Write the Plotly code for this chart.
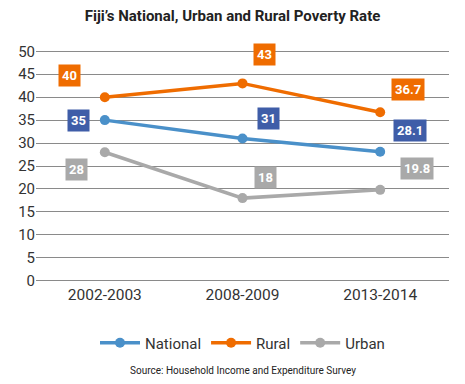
import plotly.graph_objects as go

periods = ["2002-2003", "2008-2009", "2013-2014"]
national = [35, 31, 28.1]
rural = [40, 43, 36.7]
urban = [28, 18, 19.8]
national_labels = ["35", "31", "28.1"]
rural_labels = ["40", "43", "36.7"]
urban_labels = ["28", "18", "19.8"]

FONT = "Roboto"
H = 384
series = [
    ("National", national, national_labels, "#4A90C9", "#3F5DA8",
     [(-26, 0), (26, 20), (30, 21)]),
    ("Rural", rural, rural_labels, "#EF6C00", "#EF6C00",
     [(-35, 22), (22, 29), (28, 23)]),
    ("Urban", urban, urban_labels, "#A9A9A9", "#A9A9A9",
     [(-28, -17), (23, 21), (37, 21)]),
]

fig = go.Figure()
annotations = []
for name, vals, labs, lc, bc, offs in series:
    fig.add_trace(go.Scatter(
        x=periods, y=vals, name=name, mode="lines+markers",
        line=dict(color=lc, width=3.5), marker=dict(color=lc, size=10),
        hoverinfo="skip"))
    for xv, yv, lab, (dx, dy) in zip(periods, vals, labs, offs):
        annotations.append(dict(
            x=xv, y=yv, xref="x", yref="y", text="<b>" + lab + "</b>",
            showarrow=False, xshift=dx, yshift=dy,
            bgcolor=bc, borderpad=3,
            font=dict(family=FONT, size=13, color="white")))

annotations.append(dict(
    x=0.5, y=0, xref="paper", yref="paper", yanchor="middle", yshift=-87,
    text="Source: Household Income and Expenditure Survey",
    showarrow=False, font=dict(family=FONT, size=10, color="#222")))

fig.update_layout(
    width=465, height=H,
    margin=dict(l=36, r=16, t=49, b=101, autoexpand=False),
    paper_bgcolor="white", plot_bgcolor="white",
    title=dict(text="<b>Fiji’s National, Urban and Rural Poverty Rate</b>",
               x=0.5, xanchor="center", y=1 - 16 / H, yanchor="middle",
               font=dict(family=FONT, size=15, color="#222")),
    font=dict(family=FONT, color="#333"),
    xaxis=dict(showgrid=False, showline=False, zeroline=False,
               range=[-0.5, 2.5], tickfont=dict(size=15.5, color="#333"),
               ticks=""),
    yaxis=dict(range=[-0.5, 50.5], dtick=5, tick0=0, showgrid=True,
               gridcolor="#8A8A8A", gridwidth=1.2, zeroline=False,
               showline=False, tickfont=dict(size=15, color="#333"),
               ticks=""),
    legend=dict(orientation="h", x=0.5, xanchor="center",
                yref="container", y=1 - 343 / H, yanchor="middle",
                font=dict(size=15, color="#333"), itemwidth=40,
                tracegroupgap=0),
    annotations=annotations,
    showlegend=True,
)
fig.write_html("out.html", config={"displayModeBar": False},
               post_script="document.body.style.margin='0';document.body.style.overflow='hidden';")
